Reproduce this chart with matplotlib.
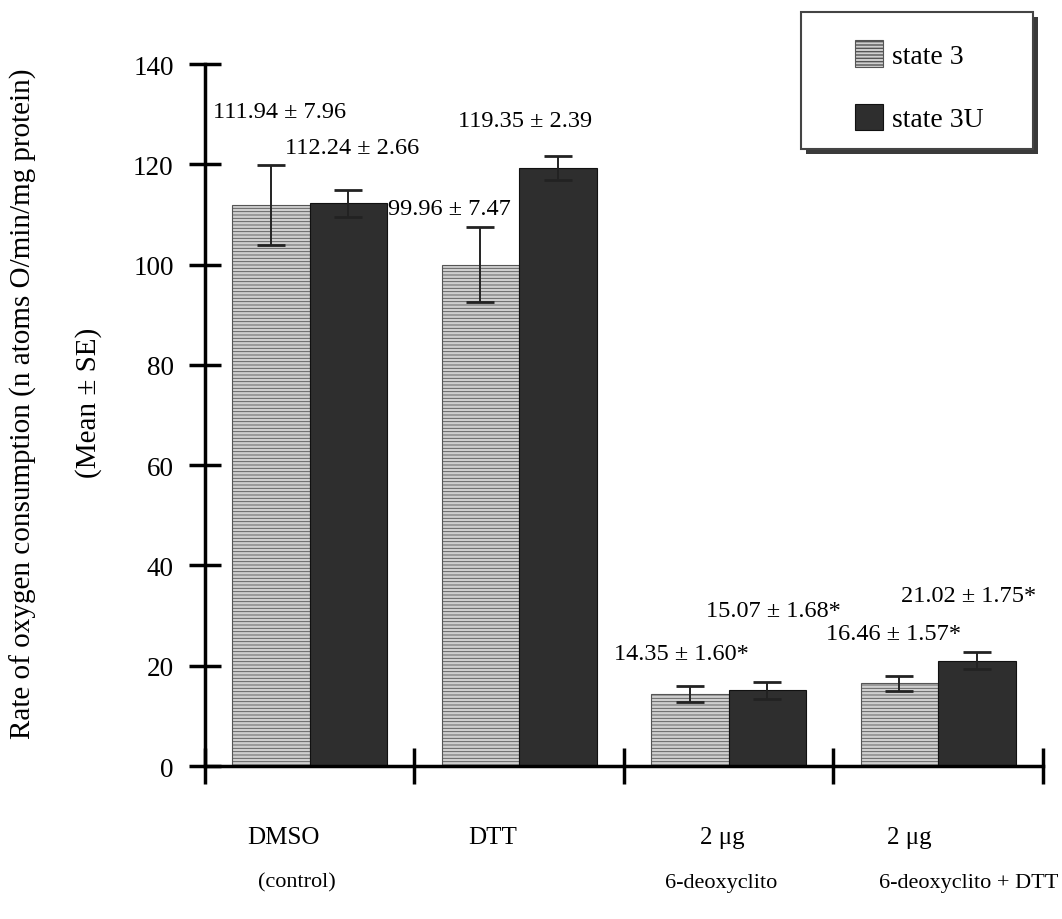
import matplotlib
matplotlib.use("Agg")
import matplotlib.pyplot as plt
from matplotlib.patches import Rectangle
import numpy as np

# ---- data ----
group_line1 = ["DMSO", "DTT", "2 \u03bcg", "2 \u03bcg"]
group_line2 = ["(control)", "", "6-deoxyclito", "6-deoxyclito + DTT"]
series_names = ["state 3", "state 3U"]
state3 = [111.94, 99.96, 14.35, 16.46]
state3_se = [7.96, 7.47, 1.60, 1.57]
state3u = [112.24, 119.35, 15.07, 21.02]
state3u_se = [2.66, 2.39, 1.68, 1.75]
stars = ["", "", "*", "*"]
yticks = [0, 20, 40, 60, 80, 100, 120, 140]

plt.rcParams['font.family'] = ['Liberation Serif', 'DejaVu Serif']
plt.rcParams['hatch.color'] = '#8a8a8a'

fig = plt.figure(figsize=(10.62, 9.2), dpi=100)
ax = fig.add_axes([0.193, 0.1663, 0.789, 0.763])
ax.set_zorder(3)
ax.patch.set_alpha(0)

x = np.arange(len(group_line1)) + 0.5
w = 0.37
c3 = '#cfcfcf'
c3u = '#2e2e2e'
b1 = ax.bar(x - w / 2, state3, w, color=c3, edgecolor='#555555', linewidth=0.8,
            hatch='-----', label=series_names[0], zorder=2)
for p in b1:
    p.set_hatch_linewidth(0.6)
b2 = ax.bar(x + w / 2, state3u, w, color=c3u, edgecolor='#111111', linewidth=0.8,
            label=series_names[1], zorder=2)

ax.errorbar(x - w / 2, state3, yerr=state3_se, fmt='none', ecolor='#222222',
            elinewidth=1.4, capsize=10, capthick=2, zorder=3)
ax.errorbar(x + w / 2, state3u, yerr=state3u_se, fmt='none', ecolor='#222222',
            elinewidth=1.4, capsize=10, capthick=2, zorder=3)

# annotation positions (layout: left edge, baseline)
lab_pos3 = [(0.038, 129.4), (0.875, 110.1), (1.952, 21.3), (2.967, 25.3)]
lab_pos3u = [(0.383, 122.3), (1.210, 127.6), (2.392, 29.9), (3.325, 32.9)]
for i in range(len(group_line1)):
    ax.text(*lab_pos3[i], f"{state3[i]:.2f} \u00b1 {state3_se[i]:.2f}{stars[i]}",
            ha='left', va='baseline', fontsize=17.5)
    ax.text(*lab_pos3u[i], f"{state3u[i]:.2f} \u00b1 {state3u_se[i]:.2f}{stars[i]}",
            ha='left', va='baseline', fontsize=17.5)

ax.set_xlim(0, 4)
ax.set_ylim(0, 140)
ax.set_yticks(yticks)
ax.set_yticklabels([str(t) for t in yticks], fontsize=19.5)
ax.set_xticks([0, 1, 2, 3, 4])
ax.set_xticklabels([])
ax.tick_params(axis='y', direction='inout', length=23, width=2.5, pad=11)
ax.tick_params(axis='x', direction='inout', length=26, width=2.5)
for s in ['top', 'right']:
    ax.spines[s].set_visible(False)
for s in ['left', 'bottom']:
    ax.spines[s].set_linewidth(2.5)

# category labels
dx1 = [-0.127, -0.127, -0.031, -0.136]
dx2 = [-0.06, 0.0, -0.036, 0.146]
for i in range(len(group_line1)):
    ax.text(x[i] + dx1[i], -14.2, group_line1[i], ha='center', va='center',
            fontsize=18, clip_on=False)
    if group_line2[i]:
        ax.text(x[i] + dx2[i], -23.2, group_line2[i], ha='center', va='center',
                fontsize=16, clip_on=False)

# y labels
fig.text(0.0217, 0.561, "Rate of oxygen consumption (n atoms O/min/mg protein)",
         rotation=90, ha='center', va='center', fontsize=21)
fig.text(0.0829, 0.562, "(Mean \u00b1 SE)", rotation=90, ha='center', va='center', fontsize=21)

# legend frame with shadow
W, H = 1062.0, 920.0
fx0, fy0, fx1, fy1 = 801 / W, 1 - 150 / H, 1033 / W, 1 - 13 / H
fig.patches.append(Rectangle((fx0 + 5 / W, fy0 - 5 / H), fx1 - fx0, fy1 - fy0,
                             transform=fig.transFigure, facecolor='#3a3a3a',
                             edgecolor='none', zorder=0))
fig.patches.append(Rectangle((fx0, fy0), fx1 - fx0, fy1 - fy0,
                             transform=fig.transFigure, facecolor='white',
                             edgecolor='#444444', linewidth=1.5, zorder=1))

leg = ax.legend(loc='upper left', bbox_to_anchor=(855 / W, 1 - 41 / H),
                bbox_transform=fig.transFigure, frameon=False, fontsize=20,
                handlelength=1.0, handleheight=1.1, labelspacing=1.25,
                borderpad=0, handletextpad=0.35, borderaxespad=0)

fig.savefig("out.png", dpi=100, facecolor='white')
